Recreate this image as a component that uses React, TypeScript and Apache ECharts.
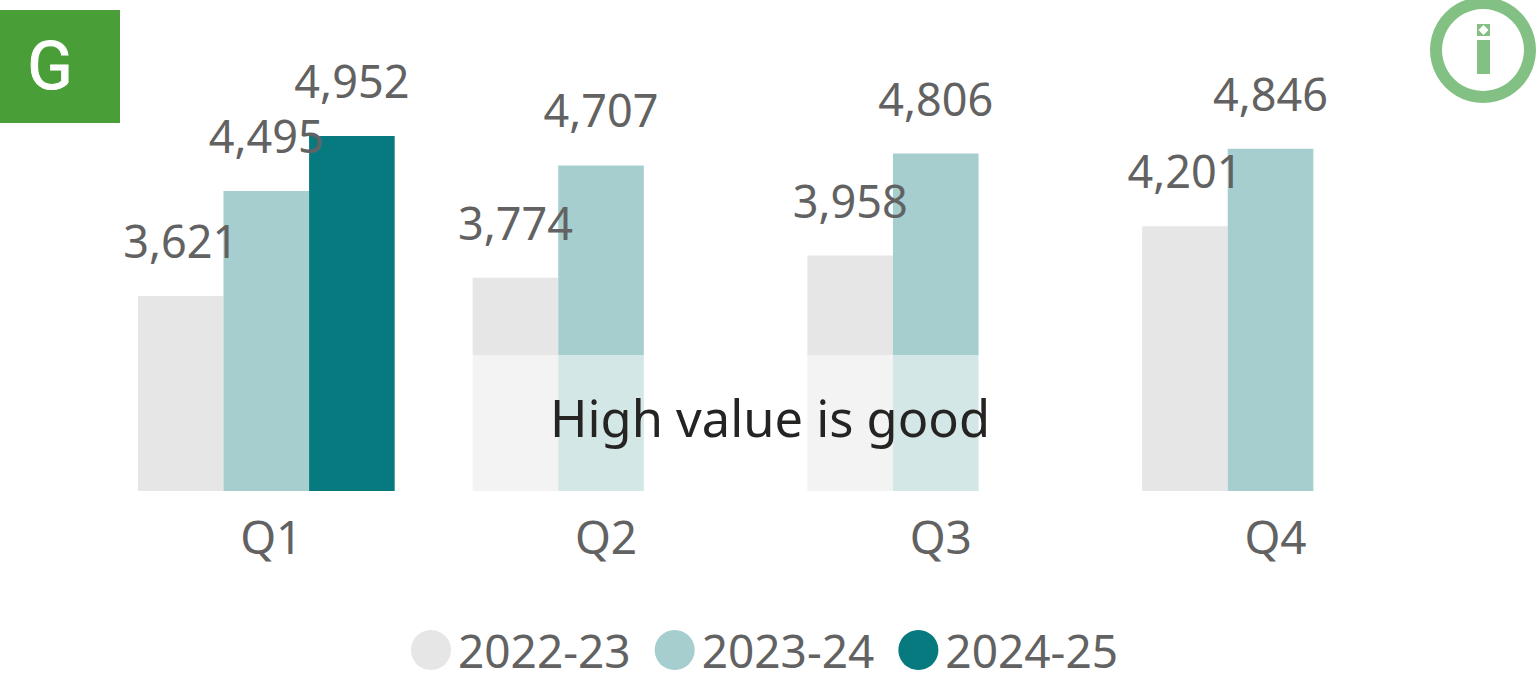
import React, { useEffect, useRef } from "react";
import * as echarts from "echarts";

const categories = ["Q1", "Q2", "Q3", "Q4"];
const s2022 = [3621, 3774, 3958, 4201];
const s2023 = [4495, 4707, 4806, 4846];
const s2024: (number | null)[] = [4952, null, null, null];
const seriesNames = ["2022-23", "2023-24", "2024-25"];
const colors = ["#e6e6e6", "#a7cecf", "#077a80"];
const FONT = "'Noto Sans', 'Open Sans', sans-serif";
const TEXT = "#626262";

echarts.graphic.registerShape(
  "infoDiamond",
  echarts.graphic.extendPath("M0 -5 L5 0 L0 5 L-5 0 Z", {})
);

export default function App() {
  const ref = useRef<HTMLDivElement>(null);
  useEffect(() => {
    document.body.style.margin = "0";
    const chart = echarts.init(ref.current!, undefined, { renderer: "svg" });
    const label = {
      show: true,
      position: "top" as const,
      distance: 33,
      fontFamily: FONT,
      fontSize: 45,
      color: TEXT,
      formatter: (p: any) => Number(p.value).toLocaleString("en-US"),
    };
    const mk = (i: number, data: (number | null)[]) => ({
      name: seriesNames[i],
      type: "bar" as const,
      data,
      barWidth: 85.6,
      barGap: 0,
      itemStyle: { color: colors[i] },
      label,
      emphasis: { disabled: true },
    });
    chart.setOption({
      animation: false,
      grid: { left: 98.9, top: 130.2, width: 1339, height: 360.8, containLabel: false },
      xAxis: {
        type: "category",
        data: categories,
        axisLine: { show: false },
        axisTick: { show: false },
        axisLabel: { fontFamily: FONT, fontSize: 46, color: TEXT, margin: 22, padding: [0, 0, 0, 10] },
      },
      yAxis: { type: "value", min: 2000, max: 5000, show: false, splitLine: { show: false } },
      legend: {
        data: seriesNames,
        icon: "circle",
        top: 627,
        left: 411,
        padding: 0,
        itemWidth: 40,
        itemHeight: 40,
        itemGap: 24,
        selectedMode: false,
        textStyle: { fontFamily: FONT, fontSize: 46, lineHeight: 40, color: TEXT, padding: [0, 0, 0, 2] },
      },
      series: [mk(0, s2022), mk(1, s2023), mk(2, s2024)],
      graphic: [
        { type: "rect", z: 50, shape: { x: 460, y: 355, width: 530, height: 137 }, style: { fill: "rgba(255,255,255,0.5)" } },
        { type: "text", z: 51, x: 770, y: 417, style: { text: "High value is good", font: `50.6px ${FONT}`, fill: "#252423", textAlign: "center", textVerticalAlign: "middle" } },
        { type: "rect", z: 50, shape: { x: 0, y: 10, width: 120, height: 113 }, style: { fill: "#4a9e37" } },
        { type: "text", z: 51, x: 50, y: 66, style: { text: "G", font: "400 67px Roboto", fill: "#ffffff", stroke: "#ffffff", lineWidth: 1, textAlign: "center", textVerticalAlign: "middle" } },
        { type: "ring", z: 50, shape: { cx: 1483, cy: 50, r: 53, r0: 41 }, style: { fill: "#83c084" } },
        { type: "rect", z: 50, shape: { x: 1477, y: 40, width: 13, height: 34 }, style: { fill: "#83c084" } },
        { type: "rect", z: 50, shape: { x: 1477, y: 24, width: 13, height: 12 }, style: { fill: "#83c084" } },
        { type: "infoDiamond", z: 51, x: 1483.5, y: 30, style: { fill: "#ffffff" } },
      ],
    });
    return () => chart.dispose();
  }, []);
  return <div ref={ref} style={{ position: "absolute", left: 0, top: 0, width: 1538, height: 678 }} />;
}
